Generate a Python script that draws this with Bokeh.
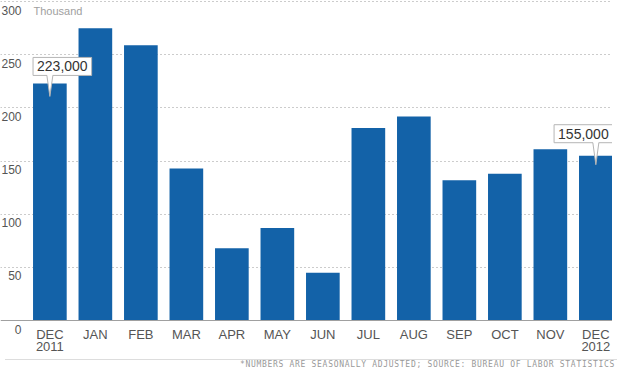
from bokeh.plotting import figure
from bokeh.models import (ColumnDataSource, Range1d, FixedTicker, Grid, Span, Div)
from bokeh.layouts import column
from bokeh.core.properties import value
from bokeh.embed import file_html
from bokeh.resources import INLINE

# ---- data ----
months = ["DEC\n2011", "JAN", "FEB", "MAR", "APR", "MAY", "JUN",
          "JUL", "AUG", "SEP", "OCT", "NOV", "DEC\n2012"]
jobs = [223, 275, 259, 143, 68, 87, 45, 181, 192, 132, 138, 161, 155]  # thousand
y_ticks = [0, 50, 100, 150, 200, 250, 300]
callout_idx = [0, 12]
callout_text = ["223,000", "155,000"]
unit_label = "Thousand"
footnote = "*NUMBERS ARE SEASONALLY ADJUSTED; SOURCE: BUREAU OF LABOR STATISTICS"

BAR = "#1362a8"
FONT = "Liberation Sans"

W, H = 612, 354
ZERO_PX = 320            # distance from top of the plot to the zero line
x0, x1 = -1.085, 12.366
y1 = 301
pxx = W / (x1 - x0)
pxy = ZERO_PX / y1
y0 = -(H - ZERO_PX) / pxy
bw = 0.74

xs = list(range(len(months)))
src = ColumnDataSource(dict(x=xs, top=jobs))

p = figure(width=W, height=H, output_backend="svg", toolbar_location=None,
           x_range=Range1d(x0, x1), y_range=Range1d(y0, y1),
           x_axis_location=None, y_axis_location=None, min_border=0,
           outline_line_color=None,
           background_fill_color="white", border_fill_color="white")

# only horizontal dotted gridlines
grid = Grid(dimension=1, ticker=FixedTicker(ticks=y_ticks[1:]),
            grid_line_color="#999999", grid_line_dash="1 3", grid_line_width=1)
p.center = [grid]

# bars
p.vbar(x="x", top="top", width=bw, source=src, fill_color=BAR, line_color=None)

# baseline (x axis line)
p.add_layout(Span(location=y_ticks[0], dimension="width",
                  line_color="#a0a0a0", line_width=1))

# month labels
p.text(x=xs, y=[y_ticks[0]] * len(xs), text=months, text_align="center",
       text_baseline="top", y_offset=6, text_line_height=0.8,
       text_font=value(FONT), text_font_size="13px", text_color="#555555")

# y tick labels (right aligned, just under each gridline)
p.text(x=[x0] * len(y_ticks), y=y_ticks, text=[str(t) for t in y_ticks],
       text_align="right", text_baseline="top", x_offset=21, y_offset=4,
       text_font=value(FONT), text_font_size="12px", text_color="#555555")
p.text(x=[x0], y=[y_ticks[-1]], text=[unit_label], text_align="left",
       text_baseline="top", x_offset=33, y_offset=3,
       text_font=value(FONT), text_font_size="11px", text_color="#a0a0a0")

# callouts
gaps = [8, 13]
tips = [13, 9]
for k, (i, t) in enumerate(zip(callout_idx, callout_text)):
    v = jobs[i]
    base_y = v + gaps[k] / pxy
    tip_y = v - tips[k] / pxy
    hw = 3 / pxx
    if k == 0:
        ax, align = i - bw / 2, "left"
    else:
        ax, align = i + bw / 2, "right"
    p.text(x=[ax], y=[base_y], text=[t], text_align=align, text_baseline="bottom",
           text_font=value(FONT), text_font_size="14px", text_color="#333333",
           background_fill_color="white", border_line_color="#b5b5b5",
           border_line_width=1, padding=4)
    p.patch(x=[i - hw, i, i + hw], y=[base_y + 1.5 / pxy, tip_y, base_y + 1.5 / pxy],
            fill_color="white", line_color=None)
    p.multi_line(xs=[[i - hw, i], [i + hw, i]], ys=[[base_y, tip_y], [base_y, tip_y]],
                 line_color="#b5b5b5", line_width=1)

note = Div(text=footnote, width=W, height=9,
           styles={"border-top": "1px solid #dddddd", "text-align": "right",
                   "font-family": "DejaVu Sans Mono", "font-size": "8px",
                   "line-height": "9px", "letter-spacing": "0.7px",
                   "color": "#999999", "white-space": "nowrap",
                   "overflow": "visible", "box-sizing": "border-box",
                   "padding-right": "2px"})

layout = column(p, note, spacing=0)
open("out.html", "w").write(file_html(layout, INLINE))
